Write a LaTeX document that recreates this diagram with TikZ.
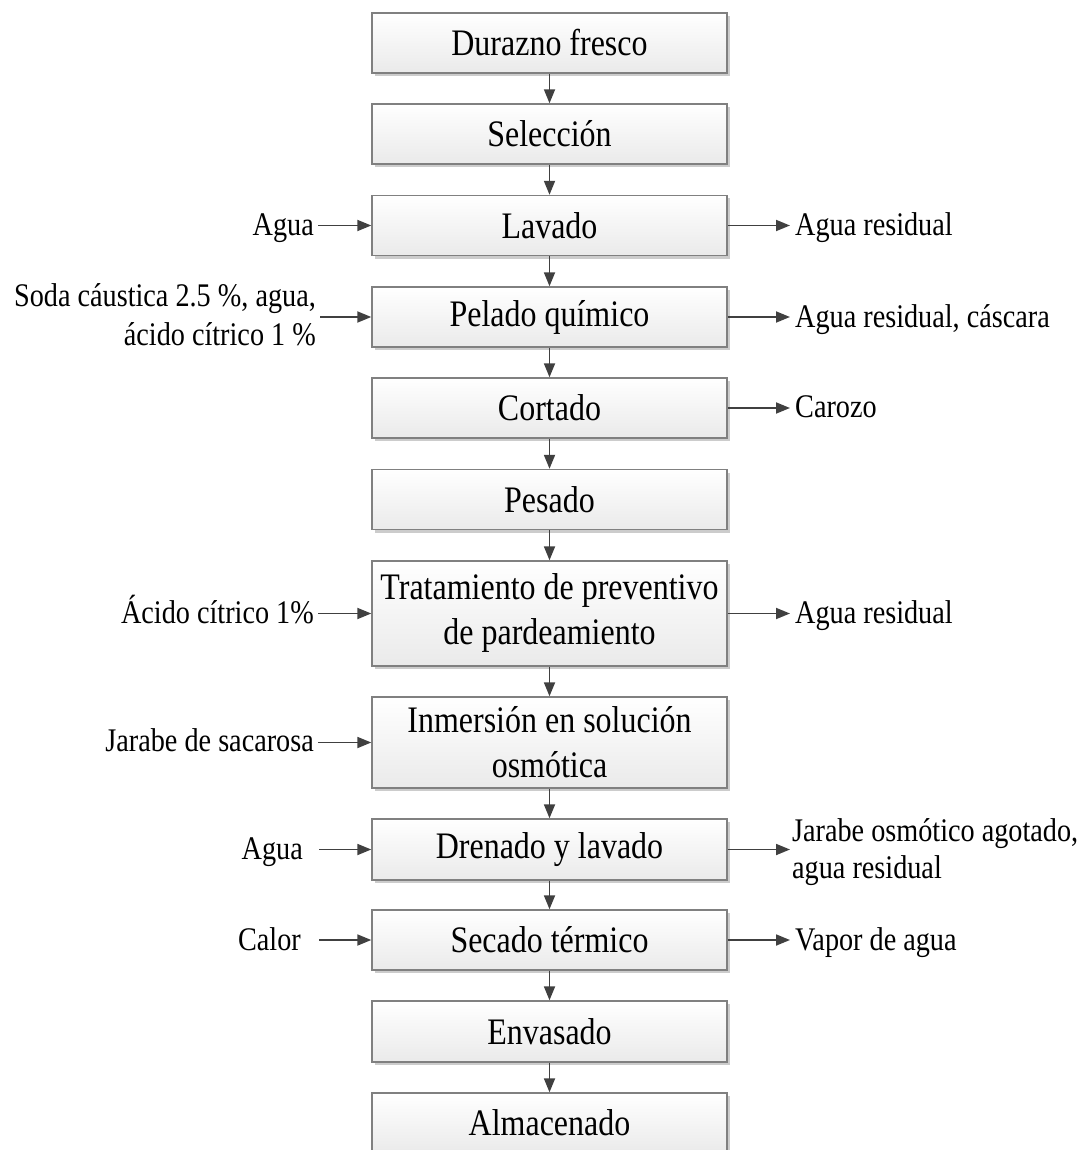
\documentclass[tikz,border=0pt]{standalone}
\usepackage{fontspec}
\setmainfont{Liberation Serif}[FakeStretch=0.855]
\usetikzlibrary{arrows.meta,shadows}
\definecolor{linec}{HTML}{404040}
\definecolor{boxline}{HTML}{808080}
\definecolor{boxbot}{HTML}{EAEAEA}
\definecolor{shad}{HTML}{CCCCCC}
\begin{document}
\begin{tikzpicture}[x=1pt,y=-1pt,
  box/.style={draw=boxline, line width=1.4pt, top color=white, bottom color=boxbot,
    minimum width=355pt, minimum height=60pt, inner sep=0pt, align=center,
    font=\fontsize{37.4}{45}\selectfont,
    drop shadow={shadow xshift=3pt, shadow yshift=-3pt, fill=shad, opacity=1}},
  lblL/.style={inner xsep=4pt, inner ysep=0pt, font=\fontsize{33}{39}\selectfont},
  lblR/.style={inner xsep=5pt, inner ysep=0pt, font=\fontsize{33}{37}\selectfont},
  arr/.style={draw=linec, line width=1.8pt, -{Triangle[length=14pt,width=11pt]}}]
\path[use as bounding box] (0,0) rectangle (1085,1150);
\clip (0,0) rectangle (1085,1150);

% main column
\node[box] (b1) at (549.5,43) {Durazno fresco};
\node[box] (b2) at (549.5,134) {Selección};
\node[box] (b3) at (549.5,225.5) {Lavado};
\node[box] (b4) at (549.5,317) {Pelado químico};
\node[box] (b5) at (549.5,408) {Cortado};
\node[box] (b6) at (549.5,499.5) {Pesado};
\node[box, minimum height=105pt] (b7) at (549.5,613.5) {Tratamiento de preventivo\\de pardeamiento};
\node[box, minimum height=91pt] (b8) at (549.5,742.5) {Inmersión en solución\\osmótica};
\node[box, minimum height=61pt] (b9) at (549.5,849.5) {Drenado y lavado};
\node[box] (b10) at (549.5,940) {Secado térmico};
\node[box, minimum height=61pt] (b11) at (549.5,1031.5) {Envasado};
\node[box] (b12) at (549.5,1123) {Almacenado};

\foreach \a/\b in {b1/b2,b2/b3,b3/b4,b4/b5,b5/b6,b6/b7,b7/b8,b8/b9,b9/b10,b10/b11,b11/b12}
  \draw[arr] (\a.south) -- (\b.north);

% inputs (left)
\node[lblL, anchor=base east] (in3) at (318,235.5) {Agua};
\node[lblL, anchor=east, align=right] (in4) at (320,315) {Soda cáustica 2.5 \%, agua,\\ácido cítrico 1 \%};
\node[lblL, anchor=base east] (in7) at (318,623.5) {Ácido cítrico 1\%};
\node[lblL, anchor=base east] (in8) at (318,751.5) {Jarabe de sacarosa};
\node[lblL, inner xsep=16pt, anchor=base east] (in9) at (319,859.5) {Agua};
\node[lblL, inner xsep=18pt, anchor=base east] (in10) at (319,950) {Calor};

\draw[arr] (in3.east |- b3.west) -- (b3.west);
\draw[arr] (in4.east |- b4.west) -- (b4.west);
\draw[arr] (in7.east |- b7.west) -- (b7.west);
\draw[arr] (in8.east |- b8.west) -- (b8.west);
\draw[arr] (in9.east |- b9.west) -- (b9.west);
\draw[arr] (in10.east |- b10.west) -- (b10.west);

% outputs (right)
\node[lblR, anchor=base west] (out3) at (790,235.5) {Agua residual};
\node[lblR, anchor=base west] (out4) at (790,327) {Agua residual, cáscara};
\node[lblR, anchor=base west] (out5) at (790,417) {Carozo};
\node[lblR, anchor=base west] (out7) at (790,623.5) {Agua residual};
\node[lblR, inner xsep=2pt, anchor=west, align=left] (out9) at (790,852) {Jarabe osmótico agotado,\\agua residual};
\node[lblR, anchor=base west] (out10) at (790,950) {Vapor de agua};

\draw[arr] (b3.east) -- (out3.west |- b3.east);
\draw[arr] (b4.east) -- (out4.west |- b4.east);
\draw[arr] (b5.east) -- (out5.west |- b5.east);
\draw[arr] (b7.east) -- (out7.west |- b7.east);
\draw[arr] (b9.east) -- (out9.west |- b9.east);
\draw[arr] (b10.east) -- (out10.west |- b10.east);
\end{tikzpicture}
\end{document}
